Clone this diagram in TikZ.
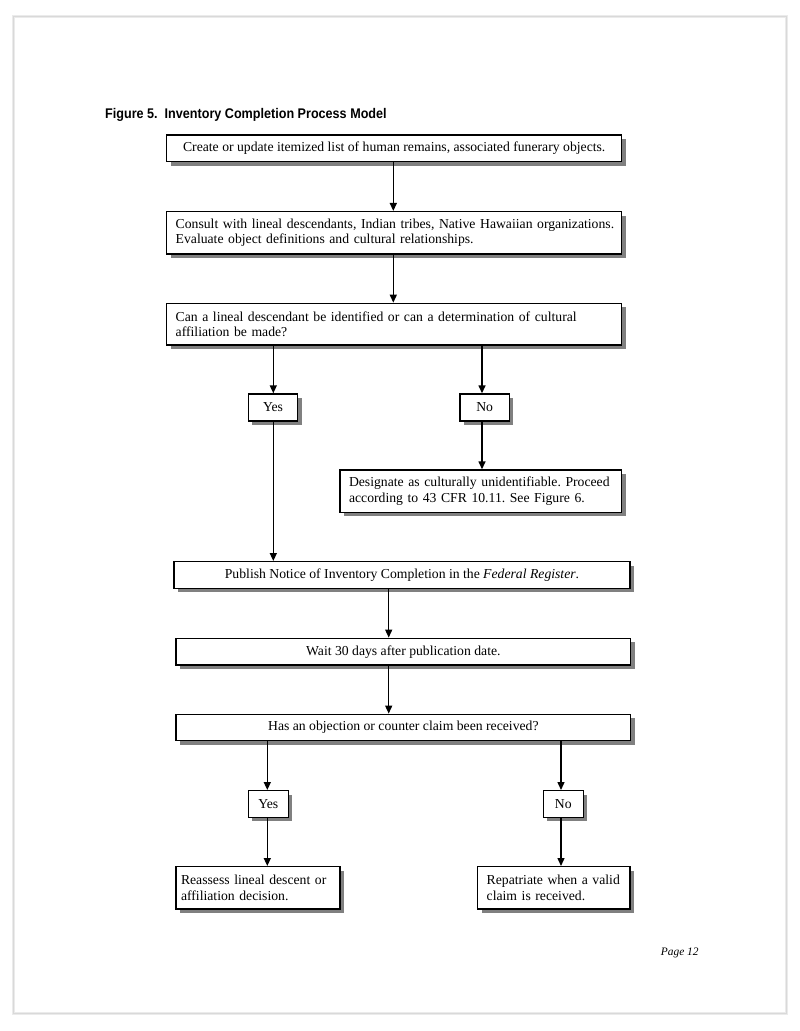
\documentclass[tikz,border=0pt]{standalone}
\usepackage{fontspec}
\setmainfont{Liberation Serif}
\newfontfamily\titlefont[FakeStretch=0.9]{Liberation Sans}
\usetikzlibrary{arrows.meta,shadows}
\frenchspacing
\tikzset{
  box/.style={draw=black, line width=1.4pt, fill=white, inner sep=0pt,
    drop shadow={shadow xshift=4pt, shadow yshift=-4pt, fill=black!50, opacity=1},
    font=\fontsize{13.7}{15.3}\selectfont},
  ltext/.style={align=left, text width=#1},
  arr/.style={line width=1.4pt, -{Triangle[length=8pt,width=7pt]}},
}
\begin{document}
\begin{tikzpicture}[x=1pt,y=-1pt]
\useasboundingbox (0,0) rectangle (800,1031);
\fill[white] (0,0) rectangle (800,1031);
% page frame
\draw[black!8, line width=3pt] (13,16) rectangle (786,1013);
\draw[black!15, line width=0.8pt] (13,16) rectangle (786,1013);

\node[anchor=base west, inner sep=0pt, font=\titlefont\fontsize{14}{16}\selectfont\bfseries] (title) at (105,118.3) {Figure 5.\ \ Inventory Completion Process Model};

\node[box, minimum width=455pt, minimum height=26.7pt] (b1) at (394.2,148.3)
  {Create or update itemized list of human remains, associated funerary objects.};
\node[box, minimum width=455pt, minimum height=42.3pt, ltext=445pt] (b2) at (394.2,232.8)
  {\hspace*{4pt}Consult with lineal descendants, Indian tribes, Native Hawaiian organizations.\\\hspace*{4pt}Evaluate object definitions and cultural relationships.};
\node[box, minimum width=455pt, minimum height=41.7pt, ltext=445pt] (b3) at (394.2,324.2)
  {\hspace*{4pt}Can a lineal descendant be identified or can a determination of cultural\\\hspace*{4pt}affiliation be made?};
\node[box, minimum width=49.4pt, minimum height=27pt] (yes1) at (273,407.5) {Yes};
\node[box, minimum width=49.3pt, minimum height=27pt] (no1) at (484.7,407.5) {No};
\node[box, minimum width=281.7pt, minimum height=42.3pt, ltext=263.7pt] (des) at (480.85,491.15)
  {Designate as culturally unidentifiable. Proceed\\according to 43 CFR 10.11. See Figure 6.};
\node[box, minimum width=456pt, minimum height=26.6pt] (pub) at (402,575)
  {Publish Notice of Inventory Completion in the \textit{Federal Register}.};
\node[box, minimum width=454.7pt, minimum height=26.7pt] (wait) at (403.35,651.65)
  {Wait 30 days after publication date.};
\node[box, minimum width=454.7pt, minimum height=26.4pt] (has) at (403.35,727.5)
  {Has an objection or counter claim been received?};
\node[box, minimum width=40pt, minimum height=26.6pt] (yes2) at (268.3,804) {Yes};
\node[box, minimum width=40pt, minimum height=26.6pt] (no2) at (563.3,804) {No};
\node[box, minimum width=164pt, minimum height=42.3pt, ltext=154pt] (rea) at (258,887.85)
  {Reassess lineal descent or\\affiliation decision.};
\node[box, minimum width=152.3pt, minimum height=42.3pt, ltext=134.3pt] (rep) at (553.85,887.85)
  {Repatriate when a valid\\claim is received.};

\node[anchor=base west, inner sep=0pt, font=\fontsize{11.4}{13}\selectfont\itshape] (page) at (660.7,955.7) {Page 12};

% column coordinates
\coordinate (xa) at (393.3,0);
\coordinate (xno) at (482,0);
\coordinate (xyes) at (273.3,0);
\coordinate (xb) at (388.7,0);
\coordinate (xy2) at (267.3,0);
\coordinate (xn2) at (561,0);

\draw[arr] (xa |- b1.south) -- (xa |- b2.north);
\draw[arr] (xa |- b2.south) -- (xa |- b3.north);
\draw[arr] (xyes |- b3.south) -- (xyes |- yes1.north);
\draw[arr] (xno |- b3.south) -- (xno |- no1.north);
\draw[arr] (xno |- no1.south) -- (xno |- des.north);
\draw[arr] (xyes |- yes1.south) -- (xyes |- pub.north);
\draw[arr] (xb |- pub.south) -- (xb |- wait.north);
\draw[arr] (xb |- wait.south) -- (xb |- has.north);
\draw[arr] (xy2 |- has.south) -- (xy2 |- yes2.north);
\draw[arr] (xn2 |- has.south) -- (xn2 |- no2.north);
\draw[arr] (xy2 |- yes2.south) -- (xy2 |- rea.north);
\draw[arr] (xn2 |- no2.south) -- (xn2 |- rep.north);
\end{tikzpicture}
\end{document}
